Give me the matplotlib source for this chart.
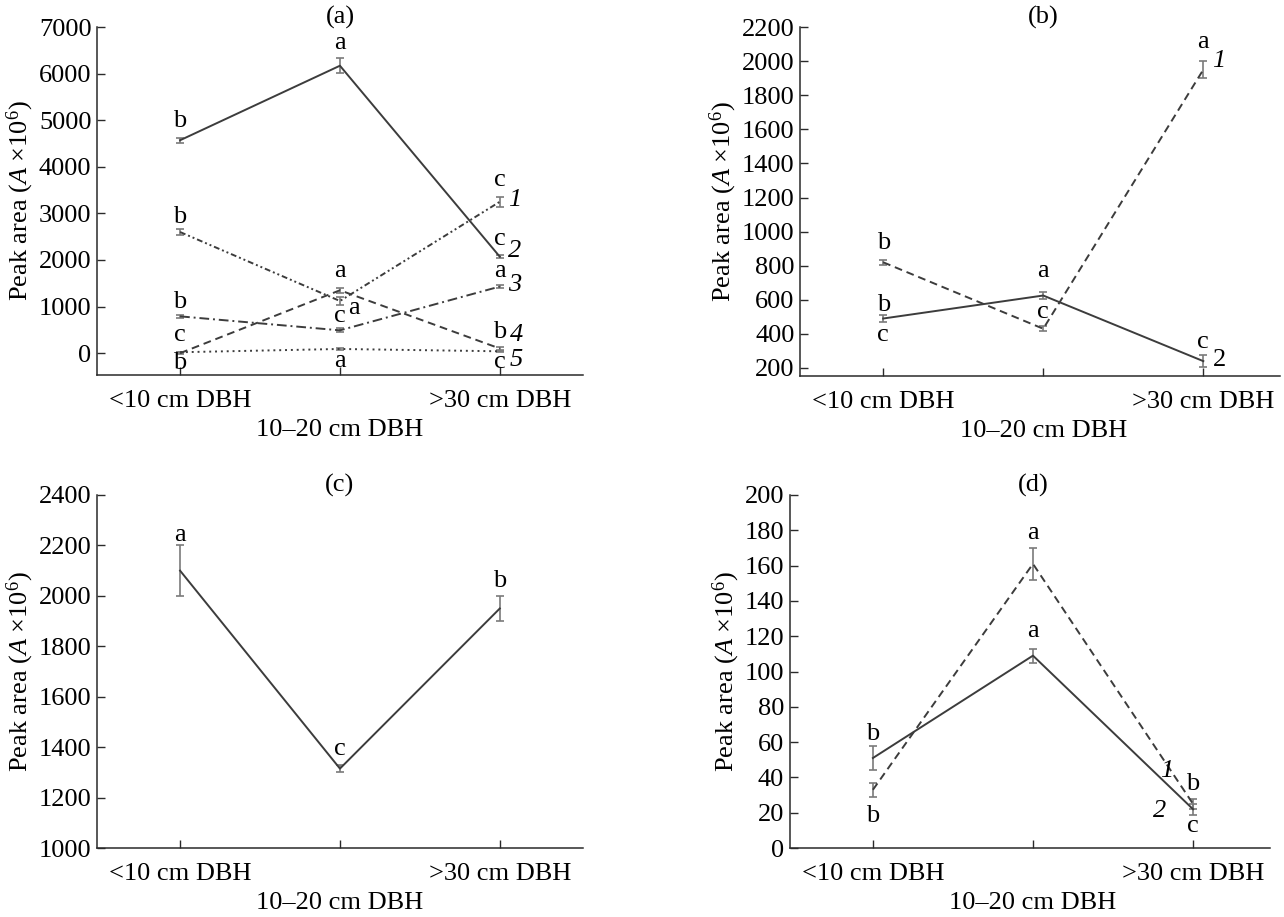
import matplotlib
matplotlib.use("Agg")
import matplotlib.pyplot as plt

plt.rcParams['font.family'] = ['Liberation Serif', 'DejaVu Serif']
plt.rcParams['mathtext.fontset'] = 'custom'
plt.rcParams['mathtext.rm'] = 'Liberation Serif'
plt.rcParams['mathtext.it'] = 'Liberation Serif:italic'

cats = ['<10 cm DBH', '\n10\u201320 cm DBH', '>30 cm DBH']
x = [0, 1, 2]

# panel (a)
a1 = [2600, 1120, 3250]; a1_err = [70, 80, 110]
a2 = [4570, 6170, 2070]; a2_err = [50, 160, 30]
a3 = [790, 490, 1430];   a3_err = [30, 40, 40]
a4 = [0, 1350, 100];     a4_err = [20, 50, 40]
a5 = [20, 90, 40];       a5_err = [10, 15, 10]

# panel (b)
b1 = [820, 430, 1950]; b1_err = [15, 15, 50]
b2 = [490, 625, 240];  b2_err = [20, 20, 35]

# panel (c)
c1 = [2100, 1315, 1950]; c1_err = [100, 15, 50]

# panel (d)
d1 = [33, 161, 25];  d1_err = [4, 9, 3]
d2 = [51, 109, 22];  d2_err = [7, 4, 3]

# letter notes: (series, point, letter, dx pt, dy pt)
a_notes = [(1, 0, 'b', 0, 11), (2, 0, 'b', 0, 14), (3, 0, 'b', 0, 10), (4, 0, 'c', 0, 13), (5, 0, 'b', 0, -8),
           (1, 1, 'a', 10, -5), (2, 1, 'a', 0, 16), (3, 1, 'c', 0, 10), (4, 1, 'a', 0, 14), (5, 1, 'a', 0, -9),
           (1, 2, 'c', 0, 16), (2, 2, 'c', 0, 13), (3, 2, 'a', 0, 11), (4, 2, 'b', 0, 12), (5, 2, 'c', 0, -8)]
b_notes = [(1, 0, 'b', 0, 14), (2, 0, 'b', 0, 10), (2, 0, 'c', 0, -12),
           (2, 1, 'a', 0, 18), (1, 1, 'c', 0, 12),
           (1, 2, 'a', 0, 20), (2, 2, 'c', 0, 14)]
c_notes = [(1, 0, 'a', 0, 26), (1, 1, 'c', 0, 14), (1, 2, 'b', 0, 20)]
d_notes = [(2, 0, 'b', 0, 17), (1, 0, 'b', 0, -19), (2, 1, 'a', 0, 18), (1, 1, 'a', 0, 22),
           (1, 2, 'b', 0, 14), (2, 2, 'c', 0, -12)]

# series numbers: (series, label, dx pt, dy pt, style) at right point
a_nums = [(1, '1', 11, 1, 'italic'), (2, '2', 11, 4, 'italic'), (3, '3', 11, 1, 'italic'),
          (4, '4', 12, 10, 'italic'), (5, '5', 12, -6, 'italic')]
b_nums = [(1, '1', 11, 6, 'italic'), (2, '2', 12, 1, 'normal')]
d_nums = [(1, '1', -19, 24, 'italic'), (2, '2', -24, -1, 'italic')]

line_col = '#3c3c3c'
err_col = '#7a7a7a'
styles = {
    'solid': '-',
    'dashdotdot': (0, (3, 1.5, 1, 1.5, 1, 1.5)),
    'dashdot': (0, (5, 2, 1, 2)),
    'dashed': (0, (4, 2.5)),
    'dotted': (0, (1, 2)),
}
fs = 19

fig = plt.figure(figsize=(12.84, 9.17), dpi=100)
ax_a = fig.add_axes([0.0755, 0.591, 0.3785, 0.3795])
ax_b = fig.add_axes([0.623, 0.590, 0.374, 0.3805])
ax_c = fig.add_axes([0.0755, 0.0752, 0.3785, 0.3850])
ax_d = fig.add_axes([0.615, 0.0752, 0.374, 0.3850])


def draw(ax, series, notes, nums, title, ylim, yticks, xlim):
    for k, (vals, err, ls) in series.items():
        ax.errorbar(x, vals, yerr=err, fmt='none', ecolor=err_col, elinewidth=1.2,
                    capsize=3, capthick=1.2, zorder=2)
        ax.plot(x, vals, color=line_col, lw=1.4, linestyle=styles[ls], zorder=3)
    for s, i, txt, dx, dy in notes:
        ax.annotate(txt, (x[i], series[s][0][i]), xytext=(dx, dy), textcoords='offset points',
                    ha='center', va='center', fontsize=fs)
    for s, txt, dx, dy, st in nums:
        ax.annotate(txt, (x[2], series[s][0][2]), xytext=(dx, dy), textcoords='offset points',
                    ha='center', va='center', fontsize=fs, style=st)
    ax.annotate(title, (1, 1), xycoords=('data', 'axes fraction'), xytext=(0, 7),
                textcoords='offset points', ha='center', va='center', fontsize=fs)
    ax.set_xlim(*xlim)
    ax.set_ylim(*ylim)
    ax.set_yticks(yticks)
    ax.set_xticks(x)
    ax.set_xticklabels(cats)
    for lbl in ax.get_xticklabels():
        lbl.set_linespacing(1.4)
    for sp in ['top', 'right']:
        ax.spines[sp].set_visible(False)
    for sp in ['left', 'bottom']:
        ax.spines[sp].set_linewidth(1.1)
        ax.spines[sp].set_color('#2a2a2a')
    ax.tick_params(direction='in', length=6, width=1, labelsize=fs, color='#2a2a2a')
    ax.tick_params(axis='x', pad=11)
    ax.tick_params(axis='y', pad=4)
    ax.set_ylabel('Peak area ($A$ \u00d710$^{6}$)', fontsize=fs, labelpad=2)


draw(ax_a, {1: (a1, a1_err, 'dashdotdot'), 2: (a2, a2_err, 'solid'), 3: (a3, a3_err, 'dashdot'),
            4: (a4, a4_err, 'dashed'), 5: (a5, a5_err, 'dotted')},
     a_notes, a_nums, '(a)', (-470, 7000), range(0, 7001, 1000), (-0.52, 2.52))
draw(ax_b, {1: (b1, b1_err, 'dashed'), 2: (b2, b2_err, 'solid')},
     b_notes, b_nums, '(b)', (153, 2200), range(200, 2201, 200), (-0.52, 2.48))
draw(ax_c, {1: (c1, c1_err, 'solid')},
     c_notes, [], '(c)', (1000, 2400), range(1000, 2401, 200), (-0.52, 2.52))
draw(ax_d, {1: (d1, d1_err, 'dashed'), 2: (d2, d2_err, 'solid')},
     d_notes, d_nums, '(d)', (0, 200), range(0, 201, 20), (-0.52, 2.48))

fig.savefig('out.png', dpi=100)
